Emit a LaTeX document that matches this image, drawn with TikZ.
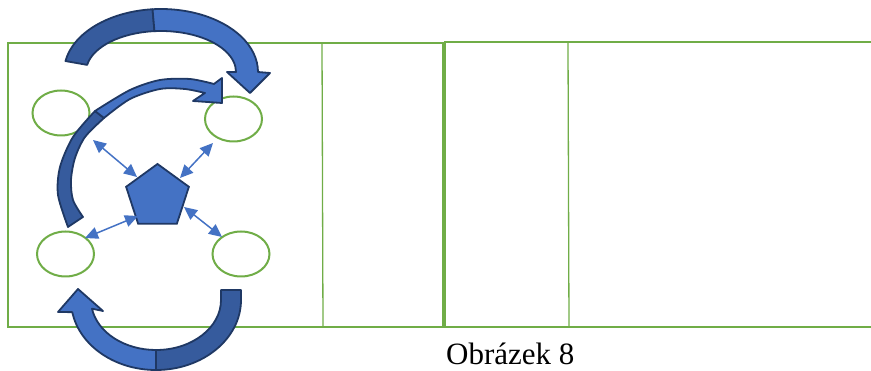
\documentclass[tikz,border=0pt]{standalone}
\usepackage{fontspec}
\setmainfont{Liberation Serif}
\usetikzlibrary{shapes.geometric,arrows.meta}
\definecolor{grn}{HTML}{70AD47}
\definecolor{blu}{HTML}{4472C4}
\definecolor{dblu}{HTML}{365B9D}
\definecolor{navy}{HTML}{1F3864}
\tikzset{
  frame/.style={draw=grn, line width=2.6pt},
  thinline/.style={draw=grn, line width=1.3pt},
  ell/.style={ellipse, draw=grn, line width=2pt, minimum width=57pt, minimum height=45pt, inner sep=0pt, fill=white},
  pent/.style={regular polygon, regular polygon sides=5, minimum size=66pt, inner sep=0pt, fill=blu, draw=navy, line width=1.8pt},
  blockdark/.style={fill=dblu, draw=navy, line width=1.8pt, line join=round},
  blocklight/.style={fill=blu, draw=navy, line width=1.8pt, line join=round},
  dbl/.style={draw=blu, line width=1.5pt, {Triangle[length=13pt,width=12pt]}-{Triangle[length=13pt,width=12pt]}},
  caption/.style={anchor=base west, inner sep=0pt, font=\fontsize{31}{36}\selectfont}
}
\begin{document}
\begin{tikzpicture}[x=1pt,y=-1pt]
\clip (0,0) rectangle (871,371);
% frames
\draw[frame] (8,43) rectangle (444,327);
\draw[frame] (444,42) -- (880,42);
\draw[frame] (444,327) -- (880,327);
\draw[grn, line width=3.2pt] (444,42) -- (444,327);
\draw[thinline] (322,43) -- (323,327);
\draw[thinline] (568,43) -- (569,327);
% ellipses
\node[ell] (e1) at (61,113) {};
\node[ell] (e2) at (233.5,119) {};
\node[ell] (e3) at (65.5,254) {};
\node[ell] (e4) at (241,254) {};
% top curved arrow A1
\path[blockdark] (161+97*cos 190, 72+63*sin 190) arc[start angle=190, end angle=265, x radius=97, y radius=63]
  -- (161+75*cos 265, 72+41*sin 265) arc[start angle=265, end angle=190, x radius=75, y radius=41] -- cycle;
\path[blocklight] (161+97*cos 265, 72+63*sin 265) arc[start angle=265, end angle=360, x radius=97, y radius=63]
  -- (270,73) -- (250,93) -- (227,72)
  -- (236,72) arc[start angle=360, end angle=265, x radius=75, y radius=41] -- cycle;
% big curved arrow A2
\path[blockdark] plot[smooth] coordinates {(68,227) (58,195) (60,167) (73,137) (95,111)}
  -- plot[smooth] coordinates {(104,118) (85,137) (75,158) (71,180) (73,200) (83,217)} -- cycle;
\path[blocklight] plot[smooth] coordinates {(95,111) (130,90) (160,80) (190,79) (214,84)}
  -- (222,78) -- (222,103) -- (193,101)
  -- plot[smooth] coordinates {(205,93) (185,89) (160,89) (130,99) (104,118)} -- cycle;
% bottom U arrow A3
\path[blockdark] (221,290) -- (241,290) -- (241,300) arc[start angle=0, end angle=90, x radius=85, y radius=70]
  -- (156,350) arc[start angle=90, end angle=0, x radius=65, y radius=50] -- cycle;
\path[blocklight] (156,370) arc[start angle=90, end angle=170, x radius=85, y radius=70]
  -- (58,312) -- (78,289) -- (103,311)
  -- (156+65*cos 170, 300+50*sin 170) arc[start angle=170, end angle=90, x radius=65, y radius=50] -- cycle;
% pentagon
\node[pent] (p) at (157.5,197) {};
% double arrows
\coordinate (a1) at (93,140); \coordinate (b1) at (137,177);
\coordinate (a2) at (213,143); \coordinate (b2) at (180,178);
\coordinate (a3) at (85,238); \coordinate (b3) at (138,216);
\coordinate (a4) at (222,237); \coordinate (b4) at (184,207);
\draw[dbl] (a1) -- (b1);
\draw[dbl] (a2) -- (b2);
\draw[dbl] (a3) -- (b3);
\draw[dbl] (a4) -- (b4);
% caption
\node[caption] (cap) at (446,364.5) {Obrázek 8};
\end{tikzpicture}
\end{document}
